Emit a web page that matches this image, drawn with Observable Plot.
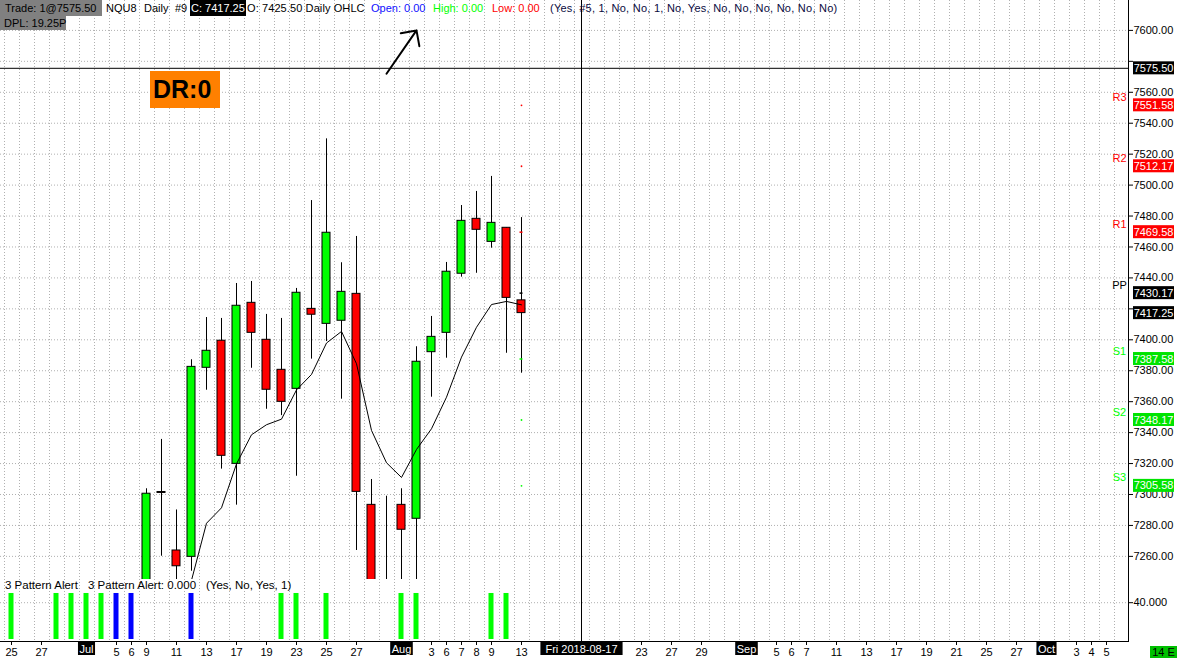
<!DOCTYPE html>
<html>
<head>
<meta charset="utf-8">
<script src="https://cdn.jsdelivr.net/npm/d3@7"></script>
<script src="https://cdn.jsdelivr.net/npm/@observablehq/plot@0.6"></script>
<style>
html,body{margin:0;padding:0;background:#fff;}
#wrap{position:relative;width:1179px;height:660px;overflow:hidden;background:#fff;font-family:"Liberation Sans",Arial,sans-serif;}
#wrap svg{position:absolute;left:0;}
.h{position:absolute;top:0;height:16px;line-height:16px;font-size:11px;white-space:pre;color:#000;z-index:3;}
</style>
</head>
<body>
<div id="wrap">
  <div class="h" style="left:0;width:102px;background:#808080;padding-left:5px;box-sizing:border-box">Trade: 1@7575.50</div>
  <div class="h" style="left:0;top:16px;height:14px;line-height:14px;width:66px;background:#808080;padding-left:4px;box-sizing:border-box">DPL: 19.25P</div>
  <div class="h" style="left:106px">NQU8</div>
  <div class="h" style="left:144px">Daily</div>
  <div class="h" style="left:175px">#9</div>
  <div class="h" style="left:190px;width:56px;background:#000;color:#fff;padding-left:1px;box-sizing:border-box">C: 7417.25</div>
  <div class="h" style="left:247px;letter-spacing:0.1px">O: 7425.50 Daily OHLC</div>
  <div class="h" style="left:371px;color:#1010ff">Open: 0.00</div>
  <div class="h" style="left:433px;color:#00ff00">High: 0.00</div>
  <div class="h" style="left:492px;color:#ff0000">Low: 0.00</div>
  <div class="h" style="left:550px;color:#0a0a40;letter-spacing:0.25px">(Yes, #5, 1, No, No, 1, No, Yes, No, No, No, No, No, No)</div>
  <div class="h" style="left:150px;top:71px;width:70px;height:37px;line-height:37px;background:#ff8000;font-weight:bold;font-size:25px;padding-left:3px;box-sizing:border-box">DR:0</div>
  <div class="h" style="left:5px;top:579px;height:13px;line-height:13px;font-size:11.5px">3 Pattern Alert</div>
  <div class="h" style="left:88px;top:579px;height:13px;line-height:13px;font-size:11.5px">3 Pattern Alert: 0.000</div>
  <div class="h" style="left:206px;top:579px;height:13px;line-height:13px;font-size:11.5px">(Yes, No, Yes, 1)</div>
  <div class="h" style="left:1150px;top:646px;width:27px;height:12px;line-height:12px;font-size:11px;background:#00c000;text-align:center">14 E</div>
</div>
<script>
// ---------------- data ----------------
const candleDates = ["2018-07-09","2018-07-10","2018-07-11","2018-07-12","2018-07-13","2018-07-16","2018-07-17","2018-07-18","2018-07-19","2018-07-20","2018-07-23","2018-07-24","2018-07-25","2018-07-26","2018-07-27","2018-07-30","2018-07-31","2018-08-01","2018-08-02","2018-08-03","2018-08-06","2018-08-07","2018-08-08","2018-08-09","2018-08-10","2018-08-13"];
const opens  = [7232.0,7301.6,7263.8,7259.7,7381.9,7399.4,7319.8,7423.9,7400.0,7380.6,7368.3,7420.0,7410.3,7412.3,7429.7,7293.3,7232.0,7293.3,7284.3,7392.0,7404.5,7442.7,7478.2,7463.3,7472.4,7425.50];
const highs  = [7303.7,7335.6,7290.0,7387.1,7414.4,7413.8,7436.4,7437.7,7416.4,7413.8,7433.2,7490.0,7529.9,7449.8,7466.8,7309.7,7298.9,7303.7,7395.5,7415.1,7450.0,7486.8,7495.9,7505.6,7472.4,7479.0];
const lows   = [7225.0,7260.1,7240.0,7250.4,7367.4,7316.4,7293.1,7381.6,7355.1,7351.0,7311.8,7387.5,7398.9,7361.6,7263.8,7220.0,7225.0,7238.0,7240.0,7362.9,7388.1,7440.5,7443.0,7459.2,7391.3,7378.4];
const closes = [7300.5,7301.0,7253.6,7382.5,7392.9,7325.0,7422.0,7404.5,7367.7,7359.9,7430.4,7416.2,7469.2,7431.0,7301.7,7230.0,7238.0,7277.2,7385.8,7401.9,7444.0,7476.9,7471.1,7475.6,7427.1,7417.25];
const maValues = [null,null,null,7244.5,7281.4,7291.4,7319.8,7338.6,7345.1,7348.7,7367.6,7377.6,7397.9,7405.4,7384.5,7341.4,7320.5,7311.0,7329.1,7342.5,7362.9,7388.8,7408.1,7422.8,7424.8,7422.6];

const alertDates = ["2018-06-25","2018-06-28","2018-06-29","2018-07-02","2018-07-03","2018-07-05","2018-07-06","2018-07-12","2018-07-20","2018-07-23","2018-07-25","2018-08-01","2018-08-02","2018-08-09","2018-08-10"];
const alertKinds = [1,1,1,1,1,2,2,2,1,1,1,1,1,1,1];
const alertLevel = 50;
const alertTicks = [40];

const pivotNames  = ["R3","R2","R1","PP","S1","S2","S3"];
const pivotValues = [7551.58,7512.17,7469.58,7430.17,7387.58,7348.17,7305.58];

const priceTicks = [7260,7280,7300,7320,7340,7360,7380,7400,7420,7440,7460,7480,7500,7520,7540,7560,7580,7600];
const hiddenPriceTicks = [7420,7580];

const dateTickDates  = ["2018-06-25","2018-06-27","2018-07-02","2018-07-05","2018-07-06","2018-07-09","2018-07-11","2018-07-13","2018-07-17","2018-07-19","2018-07-23","2018-07-25","2018-07-27","2018-08-01","2018-08-03","2018-08-06","2018-08-07","2018-08-08","2018-08-09","2018-08-13","2018-08-15","2018-08-17","2018-08-21","2018-08-23","2018-08-27","2018-08-29","2018-09-03","2018-09-05","2018-09-06","2018-09-07","2018-09-11","2018-09-13","2018-09-17","2018-09-19","2018-09-21","2018-09-25","2018-09-27","2018-10-01","2018-10-03","2018-10-04","2018-10-05"];
const dateTickLabels = ["25","27","Jul","5","6","9","11","13","17","19","23","25","27","Aug","3","6","7","8","9","13","","","","23","27","29","Sep","5","6","7","11","13","17","19","21","25","27","Oct","3","4","5"];

const crossDate = "2018-08-17";
const crossPrice = 7575.50;
const lastPrice = 7417.25;
const arrowDates = ["2018-07-31","2018-08-02"];
const arrowPrices = [7572, 7600];
const holidays = ["2018-07-04"];

// ---------------- layout / style ----------------
const W = 1179, plotRight = 1128, priceH = 579, indTop = 579, indH = 81, indMB = 19;
const slotPx = 15, firstSlotPx = 11;
const FONT = "Liberation Sans, Arial, sans-serif";
const GRID = "#b0b0b0", UP = "#00ff00", DOWN = "#ff0000", BLUE = "#0000ff", SGREEN = "#00ff00", SBOX = "#00e400";
const xDomain = [-firstSlotPx / slotPx, (plotRight - firstSlotPx) / slotPx];
const priceDomain = [7245.05, 7619.33];
const alertDomain = [-2.17, 65.2];

// ---------------- derived tables ----------------
const fmtDay = d3.utcFormat("%Y-%m-%d");
const sessions = d3.utcDays(new Date("2018-06-25T00:00Z"), new Date("2018-10-09T00:00Z"))
  .filter(d => d.getUTCDay() !== 0 && d.getUTCDay() !== 6)
  .map(fmtDay)
  .filter(s => !holidays.includes(s));
const slot = new Map(sessions.map((s, i) => [s, i]));
const slotIdx = sessions.map((s, i) => i);

const candles = candleDates.map((d, k) => ({i: slot.get(d), open: opens[k], high: highs[k], low: lows[k], close: closes[k], ma: maValues[k]}));
const lastI = slot.get(candleDates[candleDates.length - 1]);
const crossI = slot.get(crossDate);
const pivots = pivotNames.map((n, k) => ({name: n, v: pivotValues[k],
  color: n[0] === "R" ? "#ff0000" : n[0] === "S" ? SGREEN : "#000",
  box: n[0] === "R" ? "#ff0000" : n[0] === "S" ? SBOX : "#000"}));
const tickPiv = pivots.filter(p => ["R1","PP","S1"].includes(p.name));
const dotPiv = pivots.filter(p => !["R1","PP","S1"].includes(p.name));
const valueBoxes = [...pivots, {v: crossPrice, box: "#000"}, {v: lastPrice, box: "#000"}];
const alerts = alertDates.map((d, k) => ({i: slot.get(d), kind: alertKinds[k], v: alertLevel}));
const dateTicks = dateTickDates.map((d, k) => ({i: slot.get(d), label: dateTickLabels[k]}));
const isMonth = s => /^[A-Za-z]+$/.test(s);
const plainLabel = new Map(dateTicks.filter(t => t.label && !isMonth(t.label)).map(t => [t.i, t.label]));
const monthTicks = dateTicks.filter(t => isMonth(t.label));
const crossLabel = d3.utcFormat("%a %Y-%m-%d")(new Date(crossDate + "T00:00Z"));
const dateBoxes = [...monthTicks.map(t => ({i: t.i, label: t.label, pad: 1.5})), {i: crossI, label: crossLabel, pad: 5}];

const baseStyle = {fontFamily: FONT, fontSize: "11px", background: "transparent", color: "#000", overflow: "visible"};

// ---------------- price panel ----------------
const plotA = Plot.plot({
  width: W, height: priceH, marginLeft: 0, marginRight: W - plotRight, marginTop: 0, marginBottom: 0,
  style: baseStyle,
  color: {type: "identity"},
  x: {domain: xDomain, axis: null},
  y: {domain: priceDomain, axis: "right", ticks: priceTicks,
      tickFormat: v => hiddenPriceTicks.includes(v) ? "" : v.toFixed(2),
      tickSize: 4, tickPadding: 1, line: true, label: null},
  marks: [
    Plot.ruleX(slotIdx, {x: d => d, dx: -7, stroke: GRID, strokeDasharray: "1,2"}),
    Plot.ruleY(priceTicks, {y: d => d, stroke: GRID, strokeDasharray: "1,2"}),
    Plot.ruleY([crossPrice], {y: d => d, stroke: "#000"}),
    Plot.ruleX([crossI], {x: d => d, stroke: "#000"}),
    Plot.ruleX(candles, {x: "i", y1: "low", y2: "high", stroke: "#000", clip: true}),
    Plot.rect(candles, {x1: d => d.i - 4 / slotPx, x2: d => d.i + 4 / slotPx, y1: "open", y2: "close",
      fill: d => d.close >= d.open ? UP : DOWN, stroke: "#000", clip: true}),
    Plot.line(candles, {x: "i", y: "ma", stroke: "#000", strokeWidth: 1, clip: true}),
    Plot.ruleY(tickPiv, {y: "v", x1: lastI - 1.5 / slotPx, x2: lastI + 1.5 / slotPx, stroke: d => d.color, strokeWidth: 1.5}),
    Plot.dot(dotPiv, {x: lastI, y: "v", r: 0.9, fill: d => d.color, stroke: null}),
    Plot.arrow([0], {x1: slot.get(arrowDates[0]), y1: arrowPrices[0], x2: slot.get(arrowDates[1]), y2: arrowPrices[1],
      stroke: "#000", strokeWidth: 2, headAngle: 90, headLength: 12}),
    Plot.text(pivots, {y: "v", text: "name", frameAnchor: "right", textAnchor: "middle", dx: -9, dy: -8, fill: d => d.color, fontSize: 11}),
    Plot.text(valueBoxes, {y: "v", text: d => d.v.toFixed(2), frameAnchor: "right", textAnchor: "middle", dx: 25, fill: "#ffffff", fontSize: 11})
  ]
});

// ---------------- indicator panel ----------------
const plotB = Plot.plot({
  width: W, height: indH, marginLeft: 0, marginRight: W - plotRight, marginTop: 0, marginBottom: indMB,
  style: baseStyle,
  color: {type: "identity"},
  x: {domain: xDomain, axis: "bottom", ticks: dateTicks.map(t => t.i), tickFormat: i => plainLabel.get(i) ?? "",
      tickSize: 4, tickPadding: 3, line: true, label: null},
  y: {domain: alertDomain, axis: "right", ticks: alertTicks, tickFormat: ".3f", tickSize: 4, tickPadding: 1, line: true, label: null},
  marks: [
    Plot.ruleX(slotIdx, {x: d => d, dx: -7, stroke: GRID, strokeDasharray: "1,2"}),
    Plot.ruleY(alertTicks, {y: d => d, stroke: GRID, strokeDasharray: "1,2"}),
    Plot.rect(alerts, {x1: d => d.i - 2.5 / slotPx, x2: d => d.i + 2.5 / slotPx, y1: 0, y2: "v",
      fill: d => d.kind === 1 ? UP : BLUE}),
    Plot.ruleX([crossI], {x: d => d, stroke: "#000"}),
    Plot.text(dateBoxes, {x: "i", text: "label", frameAnchor: "bottom", textAnchor: "middle", dy: 11, fill: "#ffffff", fontSize: 11})
  ]
});

const wrap = document.getElementById("wrap");
plotA.style.top = "0px";
plotB.style.top = indTop + "px";
wrap.insertBefore(plotB, wrap.firstChild);
wrap.insertBefore(plotA, wrap.firstChild);

// dark / coloured boxes behind the white labels (positions come from the rendered Plot text)
function boxWhiteTexts(svg, fills, pads, h, fixedW) {
  const texts = Array.from(svg.querySelectorAll("text")).filter(t => {
    const f = getComputedStyle(t).fill;
    return f === "rgb(255, 255, 255)" || f === "#ffffff" || f === "white";
  });
  texts.forEach((t, k) => {
    const b = t.getBBox();
    const r = document.createElementNS("http://www.w3.org/2000/svg", "rect");
    const cy = b.y + b.height / 2;
    const w = fixedW || (b.width + 2 * pads[k]);
    const cx = b.x + b.width / 2;
    r.setAttribute("x", cx - w / 2);
    r.setAttribute("width", w);
    r.setAttribute("y", cy - h / 2);
    r.setAttribute("height", h);
    r.setAttribute("fill", fills[k]);
    r.setAttribute("stroke", "none");
    const tr = t.getAttribute("transform");
    if (tr) r.setAttribute("transform", tr);
    t.parentNode.insertBefore(r, t);
  });
}
boxWhiteTexts(plotA, valueBoxes.map(d => d.box), valueBoxes.map(() => 1), 13, 41);
boxWhiteTexts(plotB, dateBoxes.map(() => "#000"), dateBoxes.map(d => d.pad), 13);
</script>
</body>
</html>
